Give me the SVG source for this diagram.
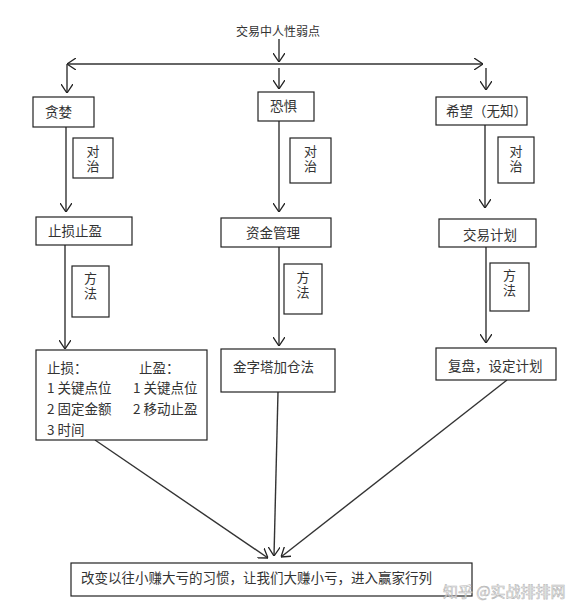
<svg xmlns="http://www.w3.org/2000/svg" width="572" height="616" viewBox="0 0 572 616">
<defs>
<marker id="chev" viewBox="0 0 9 12" refX="9" refY="6" markerWidth="9" markerHeight="12" markerUnits="userSpaceOnUse" orient="auto-start-reverse">
<path d="M0,0 L9,6 L0,12" fill="none" stroke="#222" stroke-width="1.3"/>
</marker>
</defs>
<style>
.box{fill:#fff;stroke:#222;stroke-width:1.2}
.t{font-family:"Noto Sans CJK SC","Noto Sans",sans-serif;font-size:13.5px;fill:#333}
.v{font-size:13px;writing-mode:vertical-rl;text-anchor:middle;letter-spacing:2px}
.tc{text-anchor:middle}
.ln{fill:none;stroke:#333;stroke-width:1.4}
.ar{fill:none;stroke:#333;stroke-width:1.4;marker-end:url(#chev)}
</style>
<rect width="572" height="616" fill="#fff"/>
<g id="title"><text class="t" x="236" y="35.5" style="font-size:12px">交易中人性弱点</text></g>
<g id="connectors">
<line class="ar" x1="279" y1="39" x2="279" y2="62"/>
<line class="ln" x1="67" y1="64" x2="483" y2="64" style="marker-start:url(#chev);marker-end:url(#chev)"/>
<line class="ar" x1="67" y1="64" x2="67" y2="93"/>
<line class="ar" x1="279" y1="68" x2="279" y2="89"/>
<line class="ar" x1="486" y1="68" x2="486" y2="90"/>
<line class="ar" x1="66" y1="127" x2="66" y2="212"/>
<line class="ar" x1="279" y1="121" x2="279" y2="212"/>
<line class="ar" x1="485" y1="125" x2="485" y2="208"/>
<line class="ar" x1="65" y1="245" x2="65" y2="349"/>
<line class="ar" x1="279" y1="247" x2="279" y2="346"/>
<line class="ar" x1="486" y1="247" x2="486" y2="343"/>
<line class="ar" x1="95" y1="440" x2="268" y2="558"/>
<line class="ar" x1="278" y1="392" x2="274" y2="556"/>
<line class="ar" x1="507" y1="380" x2="281" y2="557"/>
</g>
<g id="n-greed"><rect class="box" x="33" y="97" width="61" height="30"/><text class="t" x="45" y="117">贪婪</text></g>
<g id="n-fear"><rect class="box" x="258" y="92" width="56" height="29"/><text class="t" x="270" y="111">恐惧</text></g>
<g id="n-hope"><rect class="box" x="436" y="97" width="91" height="28"/><text class="t" x="446" y="116">希望（无知）</text></g>
<g id="l-dz1"><rect class="box" x="73" y="138" width="40" height="40"/><text class="t v" x="93" y="160">对治</text></g>
<g id="l-dz2"><rect class="box" x="290" y="138" width="41" height="45"/><text class="t v" x="310.5" y="160">对治</text></g>
<g id="l-dz3"><rect class="box" x="498" y="137" width="36" height="46"/><text class="t v" x="516" y="160">对治</text></g>
<g id="n-stop"><rect class="box" x="36" y="217" width="96" height="28"/><text class="t" x="48" y="236">止损止盈</text></g>
<g id="n-money"><rect class="box" x="221" y="218" width="110" height="29"/><text class="t" x="246" y="238">资金管理</text></g>
<g id="n-plan"><rect class="box" x="439" y="219" width="97" height="28"/><text class="t" x="463" y="240">交易计划</text></g>
<g id="l-ff1"><rect class="box" x="72" y="266" width="37" height="51"/><text class="t v" x="90.5" y="287">方法</text></g>
<g id="l-ff2"><rect class="box" x="284" y="264" width="38" height="50"/><text class="t v" x="303" y="286">方法</text></g>
<g id="l-ff3"><rect class="box" x="490" y="263" width="39" height="48"/><text class="t v" x="509.5" y="284">方法</text></g>
<g id="n-methods"><rect class="box" x="36" y="350" width="171" height="90"/>
<text class="t" x="47" y="373">止损：</text><text class="t" x="139" y="373">止盈：</text>
<text class="t" x="47" y="393">1 关键点位</text><text class="t" x="133" y="393">1 关键点位</text>
<text class="t" x="47" y="414">2 固定金额</text><text class="t" x="133" y="414">2 移动止盈</text>
<text class="t" x="47" y="435">3 时间</text></g>
<g id="n-pyramid"><rect class="box" x="221" y="349" width="114" height="43"/><text class="t" x="233" y="372">金字塔加仓法</text></g>
<g id="n-review"><rect class="box" x="436" y="348" width="120" height="32"/><text class="t" x="448" y="371">复盘，设定计划</text></g>
<g id="n-result"><rect class="box" x="71" y="563" width="401" height="33"/><text class="t" x="81" y="583">改变以往小赚大亏的习惯，让我们大赚小亏，进入赢家行列</text></g>
<text x="443" y="597" style="font-family:'Noto Sans CJK SC',sans-serif;font-size:15px;fill:#fff;stroke:#aaa;stroke-width:0.6;opacity:0.85">知乎 @实战排排网</text>
</svg>
